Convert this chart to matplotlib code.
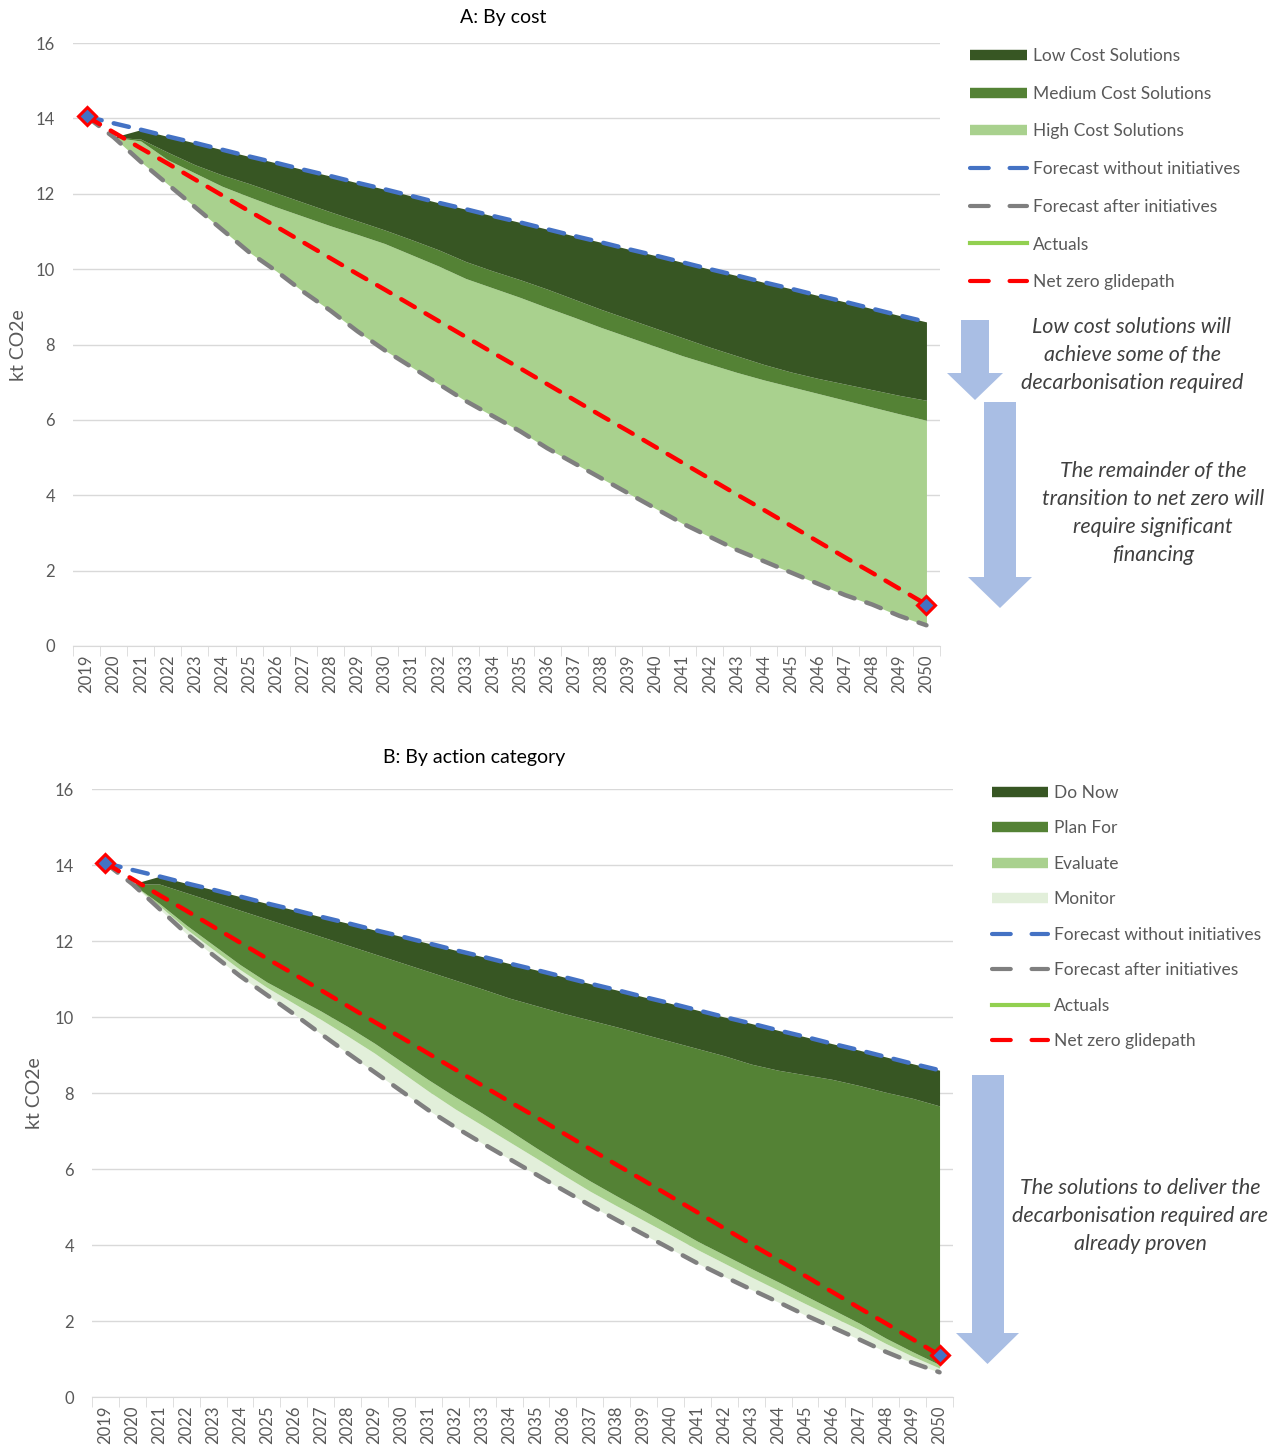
import numpy as np
import matplotlib
matplotlib.use("Agg")
import matplotlib.pyplot as plt
from matplotlib.lines import Line2D
from matplotlib.patches import Polygon

plt.rcParams['font.family'] = ['Lato', 'DejaVu Sans']

W, H = 1280, 1452

# category axis
years = [str(y) for y in range(2019, 2051)]

# kt CO2e, 2019-2050
forecast_without = [14.05, 13.87, 13.70, 13.52, 13.35, 13.17, 12.99, 12.82, 12.64, 12.47,
                    12.29, 12.12, 11.94, 11.76, 11.59, 11.41, 11.24, 11.06, 10.88, 10.71,
                    10.53, 10.36, 10.18, 10.00, 9.83, 9.65, 9.48, 9.30, 9.13, 8.95, 8.77, 8.60]
net_zero = [14.05, 13.63, 13.21, 12.80, 12.38, 11.96, 11.54, 11.13, 10.71, 10.29,
            9.87, 9.46, 9.04, 8.62, 8.20, 7.78, 7.37, 6.95, 6.53, 6.11,
            5.70, 5.28, 4.86, 4.44, 4.02, 3.61, 3.19, 2.77, 2.35, 1.94, 1.52, 1.10]
forecast_after_a = [14.05, 13.50, 12.85, 12.25, 11.65, 11.05, 10.45, 9.95, 9.40, 8.90,
                    8.35, 7.85, 7.40, 6.95, 6.50, 6.10, 5.70, 5.25, 4.85, 4.45,
                    4.05, 3.65, 3.25, 2.90, 2.55, 2.25, 1.95, 1.65, 1.35, 1.10, 0.80, 0.55]
forecast_after_b = [14.05, 13.50, 12.85, 12.20, 11.63, 11.08, 10.58, 10.08, 9.56, 9.05,
                    8.55, 8.05, 7.55, 7.10, 6.68, 6.27, 5.86, 5.45, 5.05, 4.66,
                    4.28, 3.90, 3.52, 3.17, 2.83, 2.50, 2.16, 1.84, 1.52, 1.19, 0.90, 0.65]
actuals = [14.05]
target_years = ["2019", "2050"]
target_values = [14.05, 1.10]

# solution wedges, 2020-2050
high_cost = [0, 0.55, 0.65, 0.90, 1.15, 1.47, 1.70, 2.00, 2.25, 2.57, 2.83, 2.98, 3.13, 3.25,
             3.40, 3.55, 3.73, 3.87, 4.00, 4.15, 4.30, 4.45, 4.58, 4.71, 4.81, 4.93, 5.05,
             5.17, 5.24, 5.36, 5.44]
medium_cost = [0, 0.05, 0.20, 0.22, 0.30, 0.35, 0.37, 0.37, 0.37, 0.36, 0.36, 0.40, 0.43, 0.45,
               0.45, 0.47, 0.49, 0.48, 0.48, 0.48, 0.48, 0.48, 0.45, 0.44, 0.41, 0.39, 0.40,
               0.43, 0.46, 0.49, 0.53]
low_cost = [0, 0.25, 0.42, 0.58, 0.67, 0.72, 0.80, 0.87, 0.95, 1.01, 1.08, 1.16, 1.25, 1.39,
            1.46, 1.52, 1.59, 1.68, 1.78, 1.85, 1.93, 2.00, 2.07, 2.13, 2.18, 2.21, 2.20,
            2.18, 2.15, 2.12, 2.08]

monitor = [0, 0.08, 0.12, 0.15, 0.17, 0.20, 0.28, 0.38, 0.45, 0.50, 0.50, 0.50, 0.48, 0.47,
           0.45, 0.43, 0.40, 0.37, 0.37, 0.37, 0.37, 0.36, 0.35, 0.33, 0.31, 0.30, 0.28,
           0.26, 0.22, 0.17, 0.11]
evaluate = [0, 0.06, 0.10, 0.12, 0.13, 0.14, 0.18, 0.22, 0.25, 0.26, 0.28, 0.30, 0.32, 0.32,
            0.30, 0.27, 0.27, 0.27, 0.26, 0.25, 0.23, 0.22, 0.22, 0.22, 0.22, 0.21, 0.19,
            0.17, 0.14, 0.12, 0.09]
plan_for = [0, 0.51, 0.85, 1.14, 1.43, 1.66, 1.81, 1.96, 2.14, 2.35, 2.60, 2.85, 3.07, 3.27,
            3.48, 3.74, 3.98, 4.23, 4.45, 4.65, 4.86, 5.07, 5.24, 5.38, 5.57, 5.81, 6.05,
            6.25, 6.47, 6.67, 6.81]
do_now = [0, 0.20, 0.25, 0.31, 0.36, 0.41, 0.47, 0.52, 0.58, 0.63, 0.69, 0.74, 0.79, 0.85,
          0.91, 0.94, 0.96, 0.96, 0.97, 0.98, 1.00, 1.01, 1.02, 1.07, 1.05, 1.00, 0.94,
          0.93, 0.93, 0.91, 0.94]

DARK, MID, LIGHT, PALE = '#375623', '#548235', '#A9D18E', '#E2EFDA'
BLUE, GREY, RED, LIME = '#4472C4', '#7F7F7F', '#FF0000', '#92D050'
TXT = '#595959'
ARROW = '#A9BEE4'
DASH = (0, (3.5, 2.8))
KEY_DASH = (0, (4.5, 5.0))


def box(l, t, r, b):
    return [l / W, 1 - b / H, (r - l) / W, (b - t) / H]


def fpt(x, y):
    return x / W, 1 - y / H


def draw_panel(ax, base, layers, colors, labels):
    x = np.arange(1, len(years))
    level = np.array(base[1:])
    for vals, col in zip(layers, colors):
        top = level + np.array(vals)
        ax.fill_between(x, level, top, color=col, lw=0, zorder=2)
        level = top

    idx = np.arange(len(years))
    ax.plot(idx, forecast_without, color=BLUE, lw=3.2, ls=DASH, dash_capstyle='round', zorder=5)
    ax.plot(idx, base, color=GREY, lw=3.2, ls=DASH, dash_capstyle='round', zorder=5)
    ax.plot(idx[:len(actuals)], actuals, color=LIME, lw=3, zorder=5)
    ax.plot(idx, net_zero, color=RED, lw=3.2, ls=DASH, dash_capstyle='round', zorder=6)
    ax.plot([years.index(y) for y in target_years], target_values, ls='none', marker='D',
            ms=9, mfc=BLUE, mec=RED, mew=2.2, zorder=7)

    ax.set_xlim(-0.5, len(years) - 0.5)
    ax.set_ylim(0, 16)
    ax.set_yticks(range(0, 17, 2))
    ax.set_xticks(idx)
    ax.set_xticklabels(years, rotation=90, fontsize=12, color=TXT)
    ax.set_xticks(np.arange(-0.5, len(years), 1), minor=True)
    ax.tick_params(axis='x', which='major', length=0, pad=6)
    ax.tick_params(axis='x', which='minor', length=7, color='#D9D9D9')
    ax.tick_params(axis='y', length=0, pad=13, labelsize=12, labelcolor=TXT)
    ax.grid(axis='y', color='#D9D9D9', lw=1, zorder=0)
    ax.set_axisbelow(True)
    for side in ['left', 'right', 'top']:
        ax.spines[side].set_visible(False)
    ax.spines['bottom'].set_color('#D9D9D9')

    handles = [Line2D([], [], color=c, lw=7.5, solid_capstyle='butt') for c in colors[::-1]]
    handles += [
        Line2D([], [], color=BLUE, lw=3, ls=KEY_DASH, dash_capstyle='round'),
        Line2D([], [], color=GREY, lw=3, ls=KEY_DASH, dash_capstyle='round'),
        Line2D([], [], color=LIME, lw=3),
        Line2D([], [], color=RED, lw=3, ls=KEY_DASH, dash_capstyle='round'),
    ]
    names = labels[::-1] + ['Forecast without initiatives', 'Forecast after initiatives',
                            'Actuals', 'Net zero glidepath']
    return handles, names


def arrow(x0, x1, top, neck, hx0, hx1, tip):
    pts = [(x0, top), (x1, top), (x1, neck), (hx1, neck), ((hx0 + hx1) / 2, tip),
           (hx0, neck), (x0, neck)]
    fig.patches.append(Polygon([fpt(*p) for p in pts], closed=True, color=ARROW,
                               transform=fig.transFigure, lw=0))


fig = plt.figure(figsize=(W / 100, H / 100), dpi=100)

# A: by cost
ax_a = fig.add_axes(box(73, 43, 940, 646))
h, n = draw_panel(ax_a, forecast_after_a, [high_cost, medium_cost, low_cost],
                  [LIGHT, MID, DARK],
                  ['High Cost Solutions', 'Medium Cost Solutions', 'Low Cost Solutions'])
fig.legend(h, n, loc='upper left', bbox_to_anchor=fpt(970, 48), frameon=False,
           fontsize=12.5, labelcolor=TXT, handlelength=3.3, handletextpad=0.35,
           labelspacing=1.25, borderpad=0, borderaxespad=0)
fig.text(*fpt(503, 17), 'A: By cost', ha='center', va='center', fontsize=14)
fig.text(*fpt(18, 345), 'kt CO2e', ha='center', va='center', rotation=90,
         fontsize=14, color=TXT)

# B: by action category
ax_b = fig.add_axes(box(92, 789, 953, 1397))
h, n = draw_panel(ax_b, forecast_after_b, [monitor, evaluate, plan_for, do_now],
                  [PALE, LIGHT, MID, DARK],
                  ['Monitor', 'Evaluate', 'Plan For', 'Do Now'])
fig.legend(h, n, loc='upper left', bbox_to_anchor=fpt(992, 785), frameon=False,
           fontsize=12.5, labelcolor=TXT, handlelength=3.2, handletextpad=0.35,
           labelspacing=1.12, borderpad=0, borderaxespad=0)
fig.text(*fpt(474, 758), 'B: By action category', ha='center', va='center', fontsize=14)
fig.text(*fpt(35, 1093), 'kt CO2e', ha='center', va='center', rotation=90,
         fontsize=14, color=TXT)

# arrows and notes
arrow(961, 989, 320, 373, 947, 1003, 400)
arrow(984, 1016, 402, 577, 968, 1032, 608)
arrow(972, 1004, 1075, 1333, 956, 1019, 1364)

note = dict(ha='center', va='center', fontsize=15.5, color='#404040', style='italic',
            linespacing=1.48)
fig.text(*fpt(1132, 355), 'Low cost solutions will\nachieve some of the\ndecarbonisation required',
         **note)
fig.text(*fpt(1153, 513), 'The remainder of the\ntransition to net zero will\n'
         'require significant\nfinancing', **note)
fig.text(*fpt(1140, 1216), 'The solutions to deliver the\ndecarbonisation required are\n'
         'already proven', **note)

fig.savefig('out.png', dpi=100)
